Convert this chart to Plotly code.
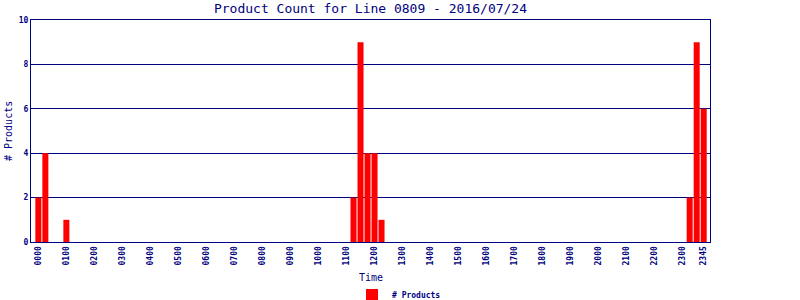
import plotly.graph_objects as go

# 15-minute time slots for the day (categories)
times = ["%02d%02d" % (h, m) for h in range(24) for m in (0, 15, 30, 45)]

# product counts per slot (96 slots)
counts = [
    2, 4, 0, 0, 1, 0, 0, 0,   # 0000-0145
    0, 0, 0, 0, 0, 0, 0, 0,   # 0200-0345
    0, 0, 0, 0, 0, 0, 0, 0,   # 0400-0545
    0, 0, 0, 0, 0, 0, 0, 0,   # 0600-0745
    0, 0, 0, 0, 0, 0, 0, 0,   # 0800-0945
    0, 0, 0, 0, 0, 2, 9, 4,   # 1000-1145
    4, 1, 0, 0, 0, 0, 0, 0,   # 1200-1345
    0, 0, 0, 0, 0, 0, 0, 0,   # 1400-1545
    0, 0, 0, 0, 0, 0, 0, 0,   # 1600-1745
    0, 0, 0, 0, 0, 0, 0, 0,   # 1800-1945
    0, 0, 0, 0, 0, 0, 0, 0,   # 2000-2145
    0, 0, 0, 0, 0, 2, 9, 6,   # 2200-2345
]

tick_labels = ["0000", "0100", "0200", "0300", "0400", "0500", "0600", "0700",
               "0800", "0900", "1000", "1100", "1200", "1300", "1400", "1500",
               "1600", "1700", "1800", "1900", "2000", "2100", "2200", "2300", "2345"]
y_ticks = [0, 2, 4, 6, 8, 10]

NAVY = "#000080"
MONO = "DejaVu Sans Mono"

fig = go.Figure()
fig.add_trace(go.Bar(
    x=times, y=counts, name="# Products",
    marker=dict(color="#FF0000", line=dict(width=0)),
))

fig.update_layout(
    width=800, height=300,
    margin=dict(l=31, r=90, t=20, b=58, autoexpand=False),
    paper_bgcolor="white", plot_bgcolor="white",
    bargap=0.14,
    showlegend=True,
    title=dict(text="Product Count for Line 0809 - 2016/07/24",
               font=dict(family=MONO, size=13, color=NAVY),
               x=0.5, xref="paper", xanchor="center",
               y=1 - 8 / 300, yref="container", yanchor="middle"),
    legend=dict(orientation="h", xref="paper", x=(352 - 31) / 679, xanchor="left",
                yref="paper", y=(242 - 295) / 222, yanchor="middle",
                font=dict(family=MONO, size=8, color=NAVY, weight="bold"),
                bgcolor="rgba(0,0,0,0)"),
    xaxis=dict(type="category", categoryorder="array", categoryarray=times,
               range=[-1.05, 95.9], automargin=False,
               tickmode="array", tickvals=tick_labels, ticktext=tick_labels,
               tickangle=-90, ticks="",
               tickfont=dict(family=MONO, size=8, color=NAVY, weight="bold"),
               showgrid=False, showline=True, linecolor=NAVY, linewidth=1,
               mirror=True, zeroline=False),
    yaxis=dict(range=[0, 10], tickmode="array", tickvals=y_ticks, automargin=False,
               ticks="", tickfont=dict(family=MONO, size=8, color=NAVY, weight="bold"),
               showgrid=True, gridcolor=NAVY, gridwidth=1,
               showline=True, linecolor=NAVY, linewidth=1, mirror=True,
               zeroline=False),
    annotations=[
        dict(text="Time", xref="paper", x=0.5, yref="paper", y=(242 - 277) / 222,
             xanchor="center", yanchor="middle", showarrow=False,
             font=dict(family=MONO, size=10, color=NAVY)),
        dict(text="# Products", xref="paper", x=(8 - 31) / 679, yref="paper", y=0.5,
             xanchor="center", yanchor="middle", textangle=-90, showarrow=False,
             font=dict(family=MONO, size=10, color=NAVY)),
    ],
)

fig.write_html("out.html")
